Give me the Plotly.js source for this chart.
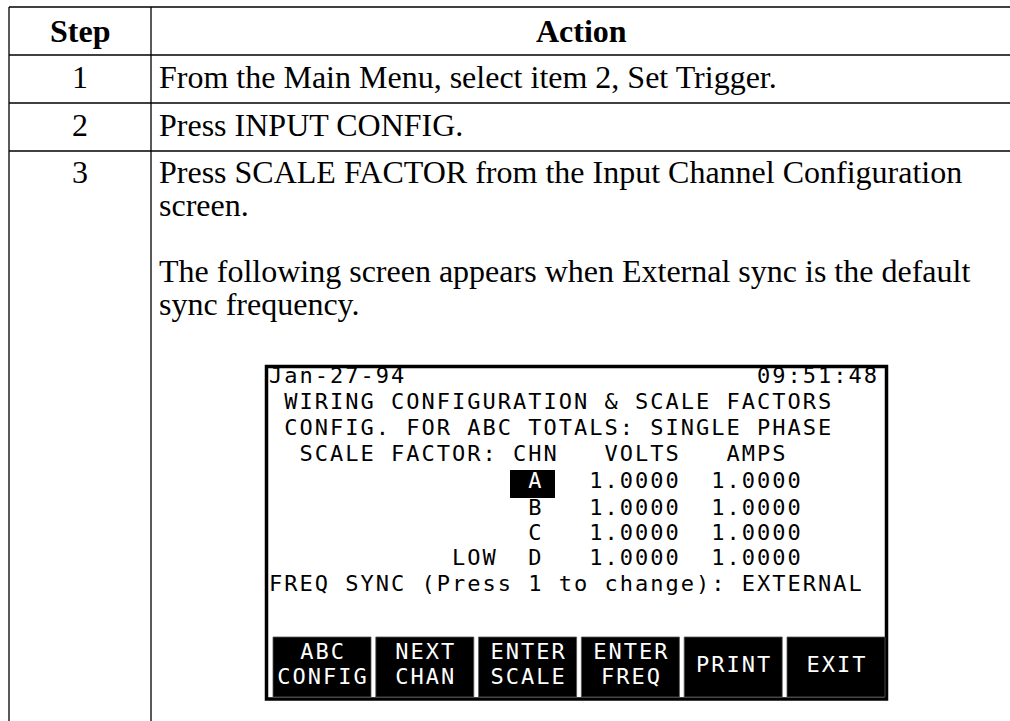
<!DOCTYPE html>
<html>
<head>
<meta charset="utf-8">
<script src="https://cdn.plot.ly/plotly-3.0.1.min.js"></script>
<style>
  html, body { margin: 0; padding: 0; background: #ffffff; }
  #chart { width: 1010px; height: 721px; }
</style>
</head>
<body>
<div id="chart"></div>
<script>
// ---------------- data ----------------
const headers = ['Step', 'Action'];
const steps = ['1', '2', '3'];
const actionLines = [
  ['From the Main Menu, select item 2, Set Trigger.'],
  ['Press INPUT CONFIG.'],
  ['Press SCALE FACTOR from the Input Channel Configuration',
   'screen.',
   '',
   'The following screen appears when External sync is the default',
   'sync frequency.']
];

// screen (instrument display) content
const screenDate = 'Jan-27-94';
const screenTime = '09:51:48';
const screenTitle1 = 'WIRING CONFIGURATION & SCALE FACTORS';
const screenTitle2 = 'CONFIG. FOR ABC TOTALS: SINGLE PHASE';
const scaleHeader = ['SCALE FACTOR:', 'CHN', 'VOLTS', 'AMPS'];
const channels = ['A', 'B', 'C', 'D'];
const channelPrefix = ['', '', '', 'LOW'];
const voltsScale = [1.0000, 1.0000, 1.0000, 1.0000];
const ampsScale = [1.0000, 1.0000, 1.0000, 1.0000];
const freqLine = 'FREQ SYNC (Press 1 to change): EXTERNAL';
const selectedChannel = 'A';
const buttonLabels = [['ABC', 'CONFIG'], ['NEXT', 'CHAN'], ['ENTER', 'SCALE'], ['ENTER', 'FREQ'], ['PRINT'], ['EXIT']];

// ---------------- build screen text grid ----------------
function place(str, col, text) {
  while (str.length < col) str += ' ';
  return str + text;
}
const screenRows = [];
screenRows.push(place(screenDate, 32, screenTime));
screenRows.push(place('', 1, screenTitle1));
screenRows.push(place('', 1, screenTitle2));
let hdr = place('', 2, scaleHeader[0]);
hdr = place(hdr, 16, scaleHeader[1]);
hdr = place(hdr, 22, scaleHeader[2]);
hdr = place(hdr, 30, scaleHeader[3]);
screenRows.push(hdr);
channels.forEach((ch, i) => {
  let r = channelPrefix[i] ? place('', 12, channelPrefix[i]) : '';
  r = place(r, 17, ch);
  r = place(r, 21, voltsScale[i].toFixed(4));
  r = place(r, 29, ampsScale[i].toFixed(4));
  screenRows.push(r);
});
screenRows.push(freqLine);

// layout geometry (pixels)
const X0 = 268, CW = 15.25;
const rowY = [377.5, 403, 429, 455, 482, 509, 534, 559.5, 585.5];
const selRow = 4 + channels.indexOf(selectedChannel);

const cx = [], cy = [], ct = [], cc = [];
screenRows.forEach((row, r) => {
  for (let i = 0; i < row.length; i++) {
    const ch = row[i];
    if (ch === ' ') continue;
    cx.push(X0 + (i + 0.5) * CW);
    cy.push(rowY[r]);
    ct.push(ch);
    cc.push(r === selRow && i === 17 ? '#ffffff' : '#000000');
  }
});

// buttons
const BTN_X0 = 273, BTN_PITCH = 102.8, BTN_W = 98, BTN_Y0 = 637, BTN_Y1 = 697;
const bx = [], by = [], bt = [];
buttonLabels.forEach((lines, b) => {
  const center = BTN_X0 + b * BTN_PITCH + BTN_W / 2;
  const ys = lines.length === 2 ? [653.5, 678.5] : [666];
  lines.forEach((ln, li) => {
    for (let i = 0; i < ln.length; i++) {
      bx.push(center + (i - (ln.length - 1) / 2) * CW);
      by.push(ys[li]);
      bt.push(ln[i]);
    }
  });
});

// ---------------- shapes ----------------
const shapes = [];
const lineStyle = { color: '#000000', width: 1.3 };
[7, 55, 103, 151].forEach(y => {
  shapes.push({ type: 'line', x0: 9, x1: 1012, y0: y, y1: y, line: lineStyle, layer: 'below' });
});
[9, 151].forEach(x => {
  shapes.push({ type: 'line', x0: x, x1: x, y0: 7, y1: 725, line: lineStyle, layer: 'below' });
});
shapes.push({ type: 'rect', x0: 266.5, x1: 886.5, y0: 366.5, y1: 699, line: { color: '#000000', width: 3.5 }, fillcolor: 'rgba(0,0,0,0)', layer: 'below' });
shapes.push({ type: 'rect', x0: 510, x1: 555, y0: 470, y1: 498, line: { width: 0 }, fillcolor: '#000000', layer: 'below' });
buttonLabels.forEach((_, b) => {
  const x0 = BTN_X0 + b * BTN_PITCH;
  shapes.push({ type: 'rect', x0: x0, x1: x0 + BTN_W, y0: BTN_Y0, y1: BTN_Y1, line: { width: 0.8, color: '#555555' }, fillcolor: '#000000', layer: 'below' });
});

// ---------------- annotations (table text) ----------------
const FS = 32;
const MID = 0.3375 * FS;
const serif = { family: 'Liberation Serif, Times New Roman, serif', size: FS, color: '#000000' };
const annotations = [];
annotations.push({ x: 80, y: 42 - MID, text: headers[0], xanchor: 'center', yanchor: 'middle', showarrow: false, font: Object.assign({}, serif, { weight: 700 }) });
annotations.push({ x: 581, y: 42 - MID, text: headers[1], xanchor: 'center', yanchor: 'middle', showarrow: false, font: Object.assign({}, serif, { weight: 700 }) });
const firstBase = [88, 136, 183];
const LH = 33;
steps.forEach((s, i) => {
  annotations.push({ x: 80, y: firstBase[i] - MID, text: s, xanchor: 'center', yanchor: 'middle', showarrow: false, font: serif });
  actionLines[i].forEach((ln, j) => {
    if (!ln) return;
    annotations.push({ x: 157, y: firstBase[i] + j * LH - MID, text: ln, xanchor: 'left', yanchor: 'middle', showarrow: false, font: serif });
  });
});

// ---------------- traces ----------------
const monoFont = 'DejaVu Sans Mono, monospace';
const traces = [
  { type: 'scatter', mode: 'text', x: cx, y: cy, text: ct, textposition: 'middle center',
    textfont: { family: monoFont, size: 22, color: cc }, hoverinfo: 'skip', cliponaxis: false, showlegend: false },
  { type: 'scatter', mode: 'text', x: bx, y: by, text: bt, textposition: 'middle center',
    textfont: { family: monoFont, size: 22, color: '#ffffff' }, hoverinfo: 'skip', cliponaxis: false, showlegend: false }
];

const layout = {
  width: 1010, height: 721,
  margin: { l: 0, r: 0, t: 0, b: 0, pad: 0 },
  paper_bgcolor: '#ffffff', plot_bgcolor: '#ffffff',
  xaxis: { range: [0, 1010], visible: false, fixedrange: true },
  yaxis: { range: [721, 0], visible: false, fixedrange: true },
  showlegend: false,
  shapes: shapes,
  annotations: annotations
};

Plotly.newPlot('chart', traces, layout, { displayModeBar: false, staticPlot: true });
</script>
</body>
</html>
